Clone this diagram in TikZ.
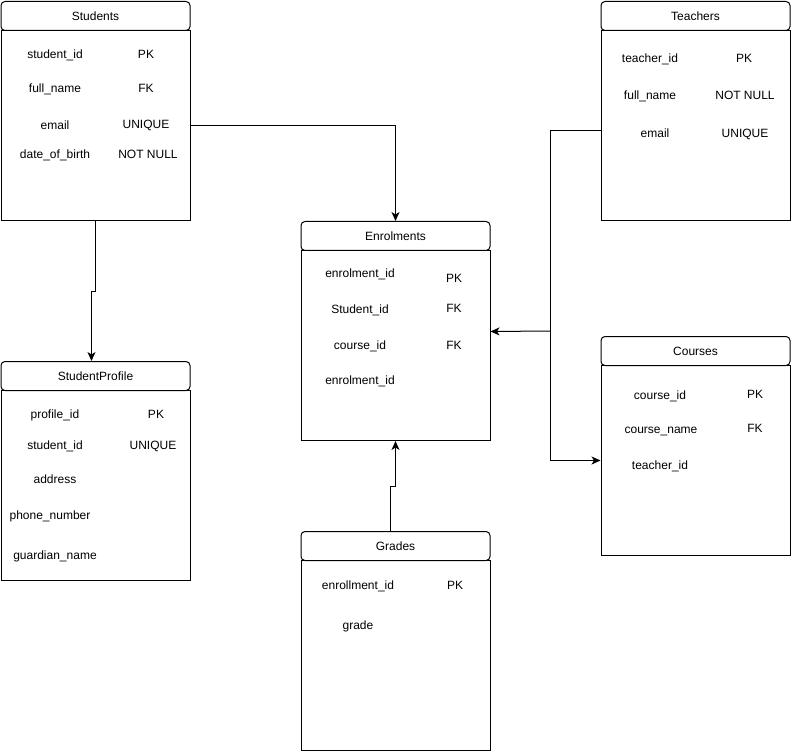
\documentclass[tikz,border=0pt]{standalone}
\usepackage{fontspec}
\setmainfont{Liberation Sans}
\usetikzlibrary{arrows.meta,calc}
\begin{document}
\begin{tikzpicture}[x=1pt,y=-1pt,
  font=\fontsize{12}{14}\selectfont,
  hdr/.style={draw=black,line width=1pt,rounded corners=4pt,fill=white,
    minimum width=189pt,minimum height=29pt,anchor=north west,inner sep=0pt},
  tbody/.style={draw=black,line width=1pt,fill=white,
    minimum width=189pt,minimum height=190pt,anchor=north west,inner sep=0pt},
  fld/.style={inner sep=0pt,anchor=center,text height=8pt,text depth=0pt},
  link/.style={draw=black,line width=1pt,-{Stealth[length=9pt,width=8pt,inset=2.5pt]}},
  plain/.style={draw=black,line width=1pt}]
\useasboundingbox[fill=white] (0,0) rectangle (792,751);

% Students
\node[tbody] (stub) at (0.5,30) {};
\node[hdr] (stuh) at (0.5,1) {Students};
\node[fld] (s1) at (55,55) {student\_id};
\node[fld] (s1k) at (146,55) {PK};
\node[fld] (s2) at (55,89) {full\_name};
\node[fld] (s2k) at (146,89) {FK};
\node[fld] (s3) at (55,126) {email};
\node[fld] (s3k) at (146,125) {UNIQUE};
\node[fld] (s4) at (55,155) {date\_of\_birth};
\node[fld] (s4k) at (148,155) {NOT NULL};

% Teachers
\node[tbody] (teab) at (600.5,30) {};
\node[hdr] (teah) at (600.5,1) {Teachers};
\node[fld] (t1) at (650,59) {teacher\_id};
\node[fld] (t1k) at (744,59) {PK};
\node[fld] (t2) at (650,96) {full\_name};
\node[fld] (t2k) at (745,96) {NOT NULL};
\node[fld] (t3) at (655,134) {email};
\node[fld] (t3k) at (745,134) {UNIQUE};

% Enrolments
\node[tbody] (enrb) at (300.5,250) {};
\node[hdr] (enrh) at (300.5,221) {Enrolments};
\node[fld] (e1) at (360,274) {enrolment\_id};
\node[fld] (e1k) at (454,279) {PK};
\node[fld] (e2) at (360,309) {Student\_id};
\node[fld] (e2k) at (454,308) {FK};
\node[fld] (e3) at (360,345) {course\_id};
\node[fld] (e3k) at (454,345) {FK};
\node[fld] (e4) at (360,380) {enrolment\_id};

% StudentProfile
\node[tbody] (spb) at (0.5,390) {};
\node[hdr] (sph) at (0.5,361) {StudentProfile};
\node[fld] (p1) at (55,414) {profile\_id};
\node[fld] (p1k) at (156,414) {PK};
\node[fld] (p2) at (55,445) {student\_id};
\node[fld] (p2k) at (153,445) {UNIQUE};
\node[fld] (p3) at (55,479) {address};
\node[fld] (p4) at (50,515) {phone\_number};
\node[fld] (p5) at (55,555) {guardian\_name};

% Courses
\node[tbody] (crb) at (600.5,365) {};
\node[hdr] (crh) at (600.5,336) {Courses};
\node[fld] (c1) at (660,395) {course\_id};
\node[fld] (c1k) at (755,394) {PK};
\node[fld] (c2) at (661,429) {course\_name};
\node[fld] (c2k) at (755,428) {FK};
\node[fld] (c3) at (660,465) {teacher\_id};

% Grades
\node[tbody] (grb) at (300.5,560) {};
\node[hdr] (grh) at (300.5,531) {Grades};
\node[fld] (g1) at (358,585) {enrollment\_id};
\node[fld] (g1k) at (455,585) {PK};
\node[fld] (g2) at (358,625) {grade};

% Connectors
\draw[link] (stub.east) -| (enrh.north);
\draw[link] (stub.south) -- ++(0,70) -- ++(-4,0) -- ($(sph.north)+(-4,0)$);
\draw[link] ($(grh.north)+(-5,0)$) -- ++(0,-45) -- ++(5,0) -- (enrb.south);
\coordinate (tj) at ($(teab.west)+(-50,5)$);
\draw[plain] ($(teab.west)+(0,5)$) -- (tj);
\draw[link] (tj) |- (crb.west);
\draw[link] (tj |- 0,331) -- ($(enrb.east)+(0,-14)$);
\end{tikzpicture}
\end{document}
